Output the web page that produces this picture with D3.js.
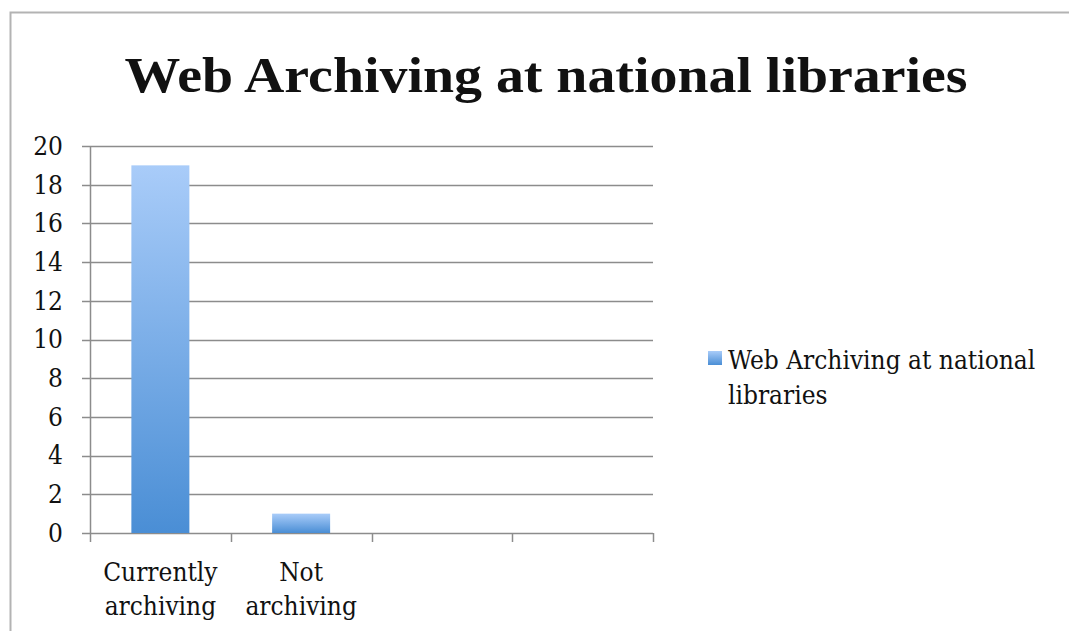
<!DOCTYPE html>
<html>
<head>
<meta charset="utf-8">
<script src="https://cdn.jsdelivr.net/npm/d3@7"></script>
<style>
  body { margin: 0; background: #fff; }
  svg { display: block; }
  text { font-family: "DejaVu Serif Condensed", "DejaVu Serif", serif; font-stretch: condensed; fill: #111; }
</style>
</head>
<body>
<svg width="1069" height="631"></svg>
<script>
var title = "Web Archiving at national libraries";
var seriesName = "Web Archiving at national libraries";
var categories = ["Currently archiving", "Not archiving", "", ""];
var values = [19, 1, null, null];
var yTicks = [0, 2, 4, 6, 8, 10, 12, 14, 16, 18, 20];

var svg = d3.select("svg"),
    width = +svg.attr("width"),
    height = +svg.attr("height");

var plot = {left: 90, right: 653, top: 146, bottom: 533};
var labelFont = "'DejaVu Serif Condensed', 'DejaVu Serif', serif";

// outer frame
svg.append("path")
    .attr("d", "M10.5,640 V12.5 H1080")
    .attr("fill", "none")
    .attr("stroke", "#b3b3b3")
    .attr("stroke-width", 2);

var defs = svg.append("defs");
var grad = defs.append("linearGradient")
    .attr("id", "barGrad")
    .attr("x1", 0).attr("y1", 0).attr("x2", 0).attr("y2", 1);
grad.append("stop").attr("offset", "0%").attr("stop-color", "#a9ccf9");
grad.append("stop").attr("offset", "100%").attr("stop-color", "#4a8ed5");

var x = d3.scaleBand()
    .domain(d3.range(categories.length))
    .range([plot.left, plot.right])
    .paddingInner(0)
    .paddingOuter(0);

var y = d3.scaleLinear()
    .domain([0, 20])
    .range([plot.bottom, plot.top]);

// gridlines
svg.append("g")
    .selectAll("line")
    .data(yTicks)
    .enter().append("line")
    .attr("x1", plot.left - 8)
    .attr("x2", plot.right)
    .attr("y1", function(d) { return Math.round(y(d)) + 0.5; })
    .attr("y2", function(d) { return Math.round(y(d)) + 0.5; })
    .attr("stroke", "#8c8c8c")
    .attr("stroke-width", 1.5);

// y axis
var yAxis = svg.append("g")
    .attr("transform", "translate(" + plot.left + ",0)")
    .call(d3.axisLeft(y).tickValues(yTicks).tickSize(0).tickPadding(27));
yAxis.select(".domain").attr("stroke", "#8c8c8c").attr("stroke-width", 1.5);
yAxis.selectAll("text")
    .style("font-family", labelFont)
    .style("font-stretch", "condensed")
    .style("font-size", "26px")
    .attr("fill", "#111");

// x axis ticks at band boundaries
var bounds = d3.range(categories.length + 1).map(function(i) {
    return i < categories.length ? x(i) : x(categories.length - 1) + x.bandwidth();
});
svg.append("g")
    .selectAll("line")
    .data(bounds)
    .enter().append("line")
    .attr("x1", function(d) { return Math.round(d) + 0.5; })
    .attr("x2", function(d) { return Math.round(d) + 0.5; })
    .attr("y1", plot.bottom)
    .attr("y2", plot.bottom + 9)
    .attr("stroke", "#8c8c8c")
    .attr("stroke-width", 1.5);

// bars
var barW = 58;
svg.append("g")
    .selectAll("rect")
    .data(values.map(function(v, i) { return {v: v, i: i}; }).filter(function(d) { return d.v != null; }))
    .enter().append("rect")
    .attr("x", function(d) { return x(d.i) + x.bandwidth() / 2 - barW / 2; })
    .attr("width", barW)
    .attr("y", function(d) { return y(d.v); })
    .attr("height", function(d) { return y(0) - y(d.v); })
    .attr("fill", "url(#barGrad)");

// category labels
var catLabels = svg.append("g")
    .selectAll("text")
    .data(categories.map(function(c, i) { return {c: c, i: i}; }).filter(function(d) { return d.c; }))
    .enter().append("text")
    .attr("text-anchor", "middle")
    .style("font-size", "26px")
    .attr("transform", function(d) { return "translate(" + (x(d.i) + x.bandwidth() / 2) + ",0)"; });
catLabels.each(function(d) {
    var words = d.c.split(" ");
    var t = d3.select(this);
    words.forEach(function(w, k) {
        t.append("tspan").attr("x", 0).attr("y", 581 + k * 34).text(w);
    });
});

// title
var tt = svg.append("text")
    .attr("x", 546)
    .attr("y", 92)
    .attr("text-anchor", "middle")
    .style("font-family", "'Liberation Serif', serif")
    .style("font-stretch", "normal")
    .style("font-size", "50px")
    .style("font-weight", "bold")
    .text(title);
tt.attr("textLength", 843).attr("lengthAdjust", "spacingAndGlyphs");

// legend
var lg = svg.append("g");
lg.append("rect")
    .attr("x", 708).attr("y", 351)
    .attr("width", 14).attr("height", 14)
    .attr("fill", "url(#barGrad)");
var lt = lg.append("text").style("font-size", "26px");
lt.append("tspan").attr("x", 728).attr("y", 369).text(seriesName.replace(" libraries", ""));
lt.append("tspan").attr("x", 728).attr("y", 404).text("libraries");
</script>
</body>
</html>
